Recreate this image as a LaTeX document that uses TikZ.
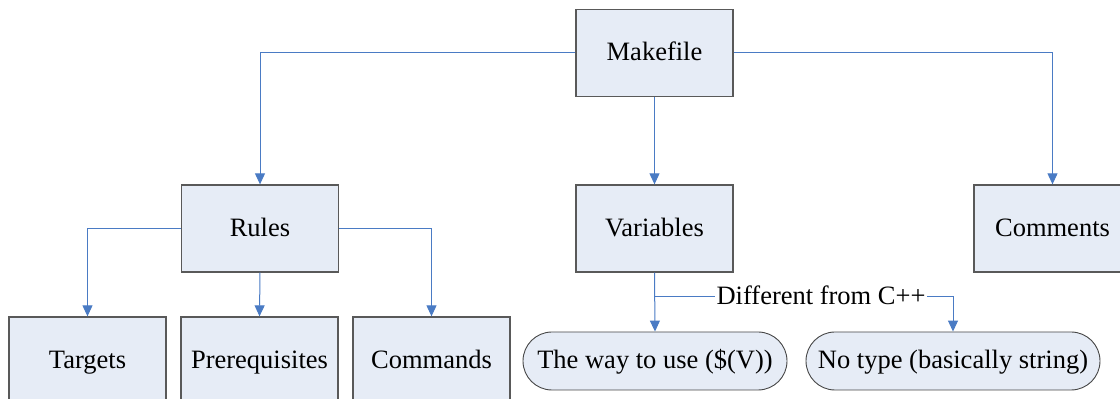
\documentclass[tikz,border=0pt]{standalone}
\usepackage{fontspec}
\setmainfont{Liberation Serif}
\usetikzlibrary{arrows.meta,shapes.misc}
\definecolor{boxfill}{HTML}{E6ECF6}
\definecolor{boxline}{HTML}{595959}
\definecolor{conncol}{HTML}{4A7BC4}
\tikzset{
  txt/.style={font=\fontsize{26.5}{30}\selectfont, text height=20.5pt, text depth=4.5pt},
  box/.style={txt, draw=boxline, line width=1.3pt, fill=boxfill, minimum width=157pt, minimum height=87pt, inner sep=0pt},
  pill/.style={txt, rounded rectangle, draw=boxline!80!black, line width=0.9pt, fill=boxfill, minimum height=58pt, inner sep=0pt},
  conn/.style={draw=conncol, line width=1pt, -{Triangle[width=10pt,length=11pt]}},
  lbl/.style={txt, fill=white, inner sep=1.5pt}
}
\begin{document}
\begin{tikzpicture}[x=1pt,y=1pt]
\useasboundingbox (0,0) rectangle (1120,399);
\clip (0,0) rectangle (1120,399);
\node[box] (make) at (654.5,346) {Makefile};
\node[box] (rules) at (260,170.5) {Rules};
\node[box] (vars) at (654.5,170.5) {Variables};
\node[box] (comm) at (1052.5,170.5) {Comments};
\node[box] (targ) at (87.5,38.5) {Targets};
\node[box] (prereq) at (259.5,38.5) {Prerequisites};
\node[box] (cmds) at (431.5,38.5) {Commands};
\node[pill, minimum width=264pt] (way) at (655,38) {The way to use (\$(V))};
\node[pill, minimum width=294pt] (notype) at (953,38) {No type (basically string)};
\coordinate (br) at (654.5,102);
\draw[conn] (make.west) -| (rules.north);
\draw[conn] (make.east) -| (comm.north);
\draw[conn] (make.south) -- (vars.north);
\draw[conn] (rules.west) -| (targ.north);
\draw[conn] (rules.south) -- (prereq.north);
\draw[conn] (rules.east) -| (cmds.north);
\draw[conn] (vars.south) -- (way.north);
\draw[conn] (br) -| node[lbl, pos=0.279] {Different from C++} (notype.north);
\end{tikzpicture}
\end{document}
